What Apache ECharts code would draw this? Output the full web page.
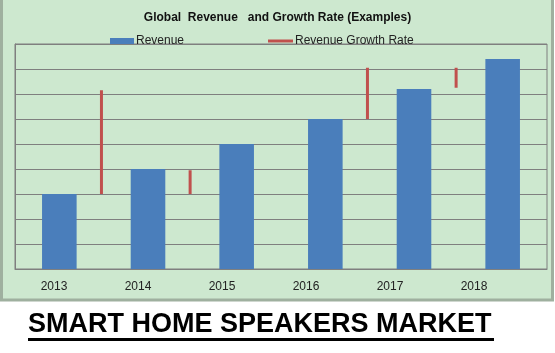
<!DOCTYPE html>
<html>
<head>
<meta charset="utf-8">
<script src="https://cdn.jsdelivr.net/npm/echarts@6/dist/echarts.min.js"></script>
<style>
  html, body { margin: 0; padding: 0; background: #fff; }
  #chart { width: 555px; height: 353px; }
</style>
</head>
<body>
<div id="chart"></div>
<script>
// values (y axis in grid units, 0..9)
var years = ['2013', '2014', '2015', '2016', '2017', '2018'];
var revenue = [3, 4, 5, 6, 7.2, 8.4];
// growth rate drawn as vertical red strokes at the right edge of each year
var growthLow = [3, 3, null, 6, 7.25, null];
var growthHigh = [7.15, 3.95, null, 8.05, 8.05, null];

var growthData = [];
for (var i = 0; i < years.length; i++) {
    if (growthLow[i] !== null) {
        growthData.push([i, growthLow[i], growthHigh[i]]);
    }
}

var chart = echarts.init(document.getElementById('chart'));
var option = {
    animation: false,
    textStyle: { fontFamily: 'Liberation Sans, Arial, sans-serif' },
    graphic: [
        {
            type: 'rect', z: -10, silent: true,
            shape: { x: 1.5, y: -2, width: 551, height: 302 },
            style: { fill: '#cde8cf', stroke: '#9fb09f', lineWidth: 3 }
        },
        {
            type: 'text', left: 28, top: 311,
            style: {
                text: 'SMART HOME SPEAKERS MARKET',
                font: 'bold 27px "Liberation Sans", Arial, sans-serif',
                fill: '#000'
            }
        },
        {
            type: 'rect', silent: true,
            shape: { x: 28, y: 338, width: 466, height: 3 },
            style: { fill: '#000' }
        }
    ],
    title: {
        text: 'Global  Revenue   and Growth Rate (Examples)',
        left: 'center',
        top: 7,
        textStyle: { fontSize: 12, fontWeight: 'bold', color: '#111' }
    },
    legend: [
        {
            left: 105, top: 30,
            itemWidth: 24, itemHeight: 6, itemGap: 0,
            textStyle: { fontSize: 12, color: '#222', padding: [0, 0, 0, -3] },
            data: [{ name: 'Revenue', icon: 'rect' }]
        },
        {
            left: 263, top: 30,
            itemWidth: 25, itemHeight: 3,
            textStyle: { fontSize: 12, color: '#222', padding: [0, 0, 0, -3] },
            data: [{ name: 'Revenue Growth Rate', icon: 'rect', itemStyle: { color: '#c0504d' } }]
        }
    ],
    grid: [
        { left: 15, right: 8, top: 44, bottom: 84, show: true, borderColor: '#7f7f7f', borderWidth: 1 },
        { left: 12, right: 39, top: 44, bottom: 84 }
    ],
    xAxis: [
        {
            type: 'category', data: years, gridIndex: 0,
            axisLine: { lineStyle: { color: '#7f7f7f' } },
            axisTick: { show: false },
            axisLabel: { show: false }
        },
        {
            type: 'category', data: years, gridIndex: 1,
            axisLine: { show: false },
            axisTick: { show: false },
            axisLabel: { margin: 12, fontSize: 12, color: '#222' }
        }
    ],
    yAxis: [
        {
            type: 'value', min: 0, max: 9, interval: 1, gridIndex: 0,
            axisLine: { show: true, lineStyle: { color: '#7f7f7f' } },
            axisLabel: { show: false },
            splitLine: { lineStyle: { color: '#7f7f7f' } }
        },
        {
            type: 'value', min: 0, max: 9, gridIndex: 1, show: false
        }
    ],
    series: [
        {
            name: 'Revenue',
            type: 'bar',
            data: revenue,
            barWidth: '39%',
            itemStyle: { color: '#4a7ebb' }
        },
        {
            name: 'Revenue Growth Rate',
            type: 'custom',
            itemStyle: { color: '#c0504d' },
            data: growthData,
            encode: { x: 0, y: [1, 2] },
            renderItem: function (params, api) {
                var band = api.size([1, 0])[0];
                var lo = api.coord([api.value(0), api.value(1)]);
                var hi = api.coord([api.value(0), api.value(2)]);
                var x = lo[0] + band * 0.475;
                return {
                    type: 'line',
                    shape: { x1: x, y1: lo[1], x2: x, y2: hi[1] },
                    style: { stroke: '#c0504d', lineWidth: 3 }
                };
            }
        }
    ]
};
chart.setOption(option);
</script>
</body>
</html>
